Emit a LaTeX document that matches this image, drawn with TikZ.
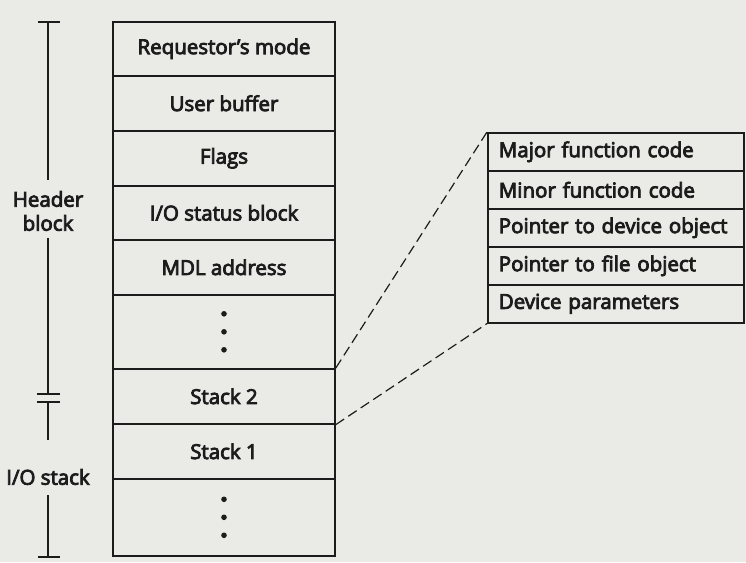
\documentclass[tikz,border=0pt]{standalone}
\usepackage{fontspec}
\setmainfont{Open Sans}[FakeBold=4]
\definecolor{paper}{RGB}{234,234,231}
\definecolor{ink}{RGB}{28,28,28}
\begin{document}
\begin{tikzpicture}[x=1pt,y=-1pt,line width=1.6pt,
  lbl/.style={font=\fontsize{20.5}{24}\selectfont,text=ink},
  cell/.style={lbl,draw=ink,minimum width=222pt,inner sep=0pt,anchor=north},
  pcell/.style={lbl,draw=ink,minimum width=256pt,minimum height=38pt,inner xsep=11pt,inner ysep=0pt,
    text width=234pt,align=left,anchor=north west},
  side/.style={lbl,align=center,inner sep=0pt},
  bracket/.style={draw=ink,line width=1.2pt},
  zoomline/.style={draw=ink,line width=1.2pt,dash pattern=on 10pt off 5pt},
  dot/.style={fill=ink}]
\fill[paper] (0,0) rectangle (746,562);
\useasboundingbox (0,0) rectangle (746,562);
% main IRP column
\node[cell,minimum height=54pt] (mode)   at (224,21)  {Requestor’s mode};
\node[cell,minimum height=55pt] (ubuf)   at (224,75)  {User buffer};
\node[cell,minimum height=55pt] (flags)  at (224,130) {Flags};
\node[cell,minimum height=54pt] (iosb)   at (224,185) {I/O status block};
\node[cell,minimum height=55pt] (mdl)    at (224,239) {MDL address};
\node[cell,minimum height=74pt] (dotsA)  at (224,294) {};
\node[cell,minimum height=55pt] (stack2) at (224,368) {Stack 2};
\node[cell,minimum height=55pt] (stack1) at (224,423) {Stack 1};
\node[cell,minimum height=77pt] (dotsB)  at (224,478) {};
\foreach \d in {-18,0,18}{
  \fill[dot] ([yshift=\d pt]dotsA.center) circle (2.8pt);
  \fill[dot] ([yshift=\d pt]dotsB.center) circle (2.8pt);
}
% stack location detail
\node[pcell] (major) at (487,132) {\mbox{Major function code}};
\node[pcell] (minor) at (487,170) {\mbox{Minor function code}};
\node[pcell] (pdev)  at (487,208) {\mbox{Pointer to device object}};
\node[pcell] (pfile) at (487,246) {\mbox{Pointer to file object}};
\node[pcell] (devp)  at (487,284) {\mbox{Device parameters}};
\draw[zoomline] (stack2.north east) -- (major.north west);
\draw[zoomline] (stack2.south east) -- (devp.south west);
% side labels and brackets
\node[side] (hdr) at (48,211) {Header\\block};
\node[side] (ios) at (48,477) {I/O stack};
\coordinate (hTop) at (48,22);
\coordinate (hA) at (48,180);
\coordinate (hB) at (48,238);
\coordinate (hBot) at (48,394);
\coordinate (sTop) at (48,402);
\coordinate (sA) at (48,440);
\coordinate (sB) at (48,495);
\coordinate (sBot) at (48,557);
\draw[bracket] (hTop) -- (hA);
\draw[bracket] (hB) -- (hBot);
\draw[bracket] (sTop) -- (sA);
\draw[bracket] (sB) -- (sBot);
\draw[bracket] ([xshift=-10pt]hTop) -- ([xshift=12pt]hTop);
\draw[bracket] ([xshift=-11pt]hBot) -- ([xshift=12pt]hBot);
\draw[bracket] ([xshift=-11pt]sTop) -- ([xshift=12pt]sTop);
\draw[bracket] ([xshift=-10pt]sBot) -- ([xshift=12pt]sBot);
\end{tikzpicture}
\end{document}
